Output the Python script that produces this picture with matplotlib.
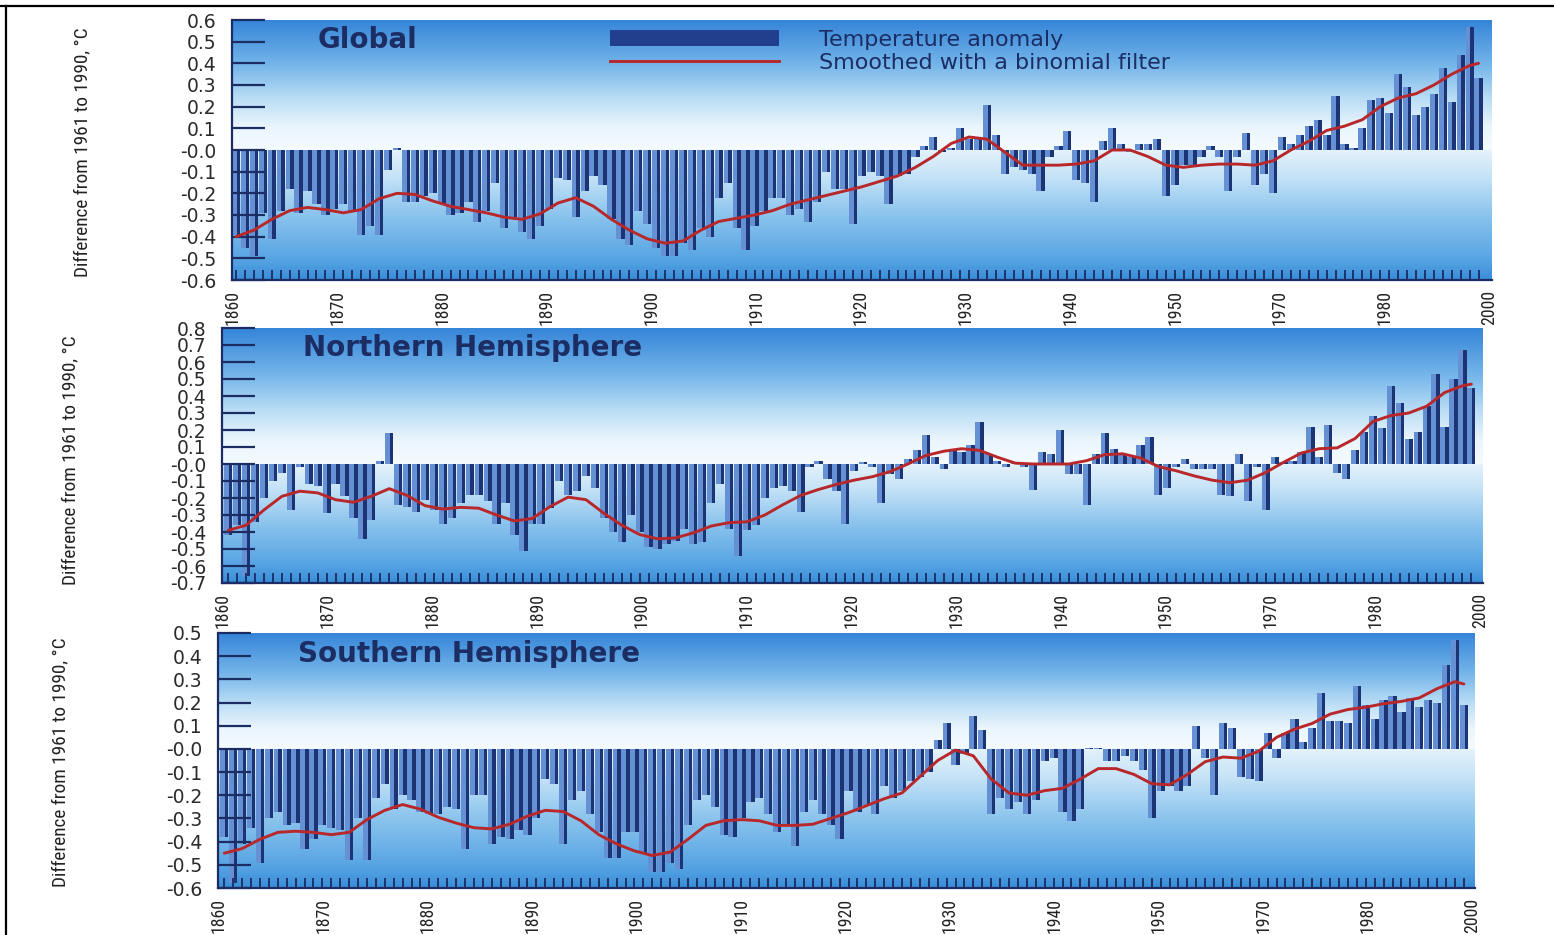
import os
import numpy as np
import matplotlib
matplotlib.use("Agg")
import matplotlib.pyplot as plt
from matplotlib import font_manager as fm
from matplotlib.font_manager import FontProperties
from matplotlib.patches import Patch
from matplotlib.lines import Line2D
from matplotlib.colors import to_rgb

plt.rcParams['axes.unicode_minus'] = False

# ---------------- data ----------------
years = np.arange(1860, 2000)

global_anom = [
    -0.39, -0.45, -0.49, -0.29, -0.41, -0.28, -0.18, -0.29, -0.19, -0.25,
    -0.30, -0.27, -0.25, -0.28, -0.39, -0.35, -0.39, -0.09, 0.01, -0.24,
    -0.24, -0.21, -0.20, -0.25, -0.30, -0.29, -0.24, -0.33, -0.28, -0.15,
    -0.36, -0.31, -0.38, -0.41, -0.35, -0.27, -0.13, -0.14, -0.31, -0.19,
    -0.12, -0.16, -0.32, -0.41, -0.44, -0.28, -0.34, -0.45, -0.49, -0.49,
    -0.43, -0.46, -0.36, -0.40, -0.22, -0.15, -0.36, -0.46, -0.35, -0.28,
    -0.22, -0.22, -0.30, -0.27, -0.33, -0.24, -0.10, -0.18, -0.18, -0.34,
    -0.12, -0.10, -0.12, -0.25, -0.12, -0.11, -0.03, 0.02, 0.06, -0.01,
    0.01, 0.10, 0.05, 0.05, 0.21, 0.07, -0.11, -0.08, -0.09, -0.11,
    -0.19, -0.03, 0.02, 0.09, -0.14, -0.15, -0.24, 0.04, 0.10, 0.03,
    -0.01, 0.03, 0.03, 0.05, -0.21, -0.16, -0.07, -0.08, -0.03, 0.02,
    -0.03, -0.19, -0.03, 0.08, -0.16, -0.11, -0.20, 0.06, 0.03, 0.07,
    0.11, 0.14, 0.07, 0.25, 0.03, 0.01, 0.10, 0.23, 0.24, 0.17,
    0.35, 0.29, 0.16, 0.20, 0.26, 0.38, 0.22, 0.44, 0.57, 0.33,
]

nh_anom = [
    -0.42, -0.36, -0.66, -0.34, -0.20, -0.10, -0.05, -0.27, -0.02, -0.12,
    -0.13, -0.29, -0.12, -0.19, -0.32, -0.44, -0.33, 0.02, 0.18, -0.24,
    -0.25, -0.28, -0.21, -0.27, -0.35, -0.32, -0.23, -0.18, -0.18, -0.22,
    -0.35, -0.23, -0.42, -0.51, -0.35, -0.35, -0.26, -0.10, -0.18, -0.16,
    -0.07, -0.14, -0.32, -0.40, -0.46, -0.30, -0.40, -0.49, -0.50, -0.47,
    -0.45, -0.38, -0.47, -0.46, -0.23, -0.12, -0.38, -0.54, -0.39, -0.36,
    -0.20, -0.14, -0.13, -0.16, -0.28, -0.02, 0.02, -0.09, -0.16, -0.35,
    -0.04, 0.01, -0.02, -0.23, -0.06, -0.09, 0.03, 0.08, 0.17, 0.04,
    -0.03, 0.09, 0.07, 0.11, 0.25, 0.06, 0.02, -0.02, 0.01, -0.02,
    -0.15, 0.07, 0.06, 0.20, -0.06, -0.06, -0.24, 0.06, 0.18, 0.09,
    0.06, 0.04, 0.11, 0.16, -0.18, -0.14, -0.02, 0.03, -0.03, -0.03,
    -0.03, -0.18, -0.19, 0.06, -0.22, -0.02, -0.27, 0.04, 0.01, 0.02,
    0.07, 0.22, 0.04, 0.23, -0.05, -0.09, 0.08, 0.19, 0.28, 0.21,
    0.46, 0.36, 0.15, 0.19, 0.34, 0.53, 0.22, 0.50, 0.67, 0.45,
]

sh_anom = [
    -0.38, -0.58, -0.41, -0.34, -0.49, -0.30, -0.27, -0.33, -0.32, -0.43,
    -0.39, -0.33, -0.34, -0.35, -0.48, -0.30, -0.48, -0.21, -0.15, -0.26,
    -0.20, -0.22, -0.27, -0.28, -0.28, -0.25, -0.26, -0.43, -0.20, -0.20,
    -0.41, -0.38, -0.39, -0.35, -0.37, -0.30, -0.13, -0.15, -0.41, -0.22,
    -0.18, -0.28, -0.36, -0.47, -0.47, -0.36, -0.36, -0.45, -0.53, -0.53,
    -0.49, -0.52, -0.33, -0.22, -0.20, -0.25, -0.37, -0.38, -0.30, -0.23,
    -0.21, -0.28, -0.36, -0.33, -0.42, -0.27, -0.22, -0.28, -0.33, -0.39,
    -0.18, -0.27, -0.24, -0.28, -0.16, -0.21, -0.18, -0.14, -0.12, -0.10,
    0.04, 0.11, -0.07, -0.02, 0.14, 0.08, -0.28, -0.21, -0.26, -0.23,
    -0.28, -0.22, -0.05, -0.04, -0.27, -0.31, -0.26, 0.005, 0.005, -0.05,
    -0.05, -0.03, -0.05, -0.09, -0.30, -0.18, -0.16, -0.18, -0.16, 0.10,
    -0.04, -0.20, 0.11, 0.09, -0.12, -0.13, -0.14, 0.07, -0.04, 0.07,
    0.13, 0.03, 0.09, 0.24, 0.12, 0.12, 0.11, 0.27, 0.19, 0.13,
    0.21, 0.23, 0.16, 0.22, 0.18, 0.21, 0.20, 0.36, 0.47, 0.19,
]

global_smooth_years = [1860, 1862, 1864, 1866, 1868, 1870, 1872, 1874, 1876, 1878,
                       1880, 1882, 1884, 1886, 1888, 1890, 1892, 1894, 1896, 1898,
                       1900, 1902, 1904, 1906, 1908, 1910, 1912, 1914, 1916, 1918,
                       1920, 1922, 1924, 1926, 1928, 1930, 1932, 1934, 1936, 1938,
                       1940, 1942, 1944, 1946, 1948, 1950, 1952, 1954, 1956, 1958,
                       1960, 1962, 1964, 1966, 1968, 1970, 1972, 1974, 1976, 1978,
                       1980, 1982, 1984, 1986, 1988, 1990, 1992, 1994, 1996, 1998, 1999]
global_smooth = [-0.40, -0.37, -0.32, -0.28, -0.265, -0.275, -0.29, -0.275, -0.225, -0.20,
                 -0.205, -0.235, -0.26, -0.275, -0.29, -0.31, -0.32, -0.295, -0.245, -0.22,
                 -0.26, -0.32, -0.37, -0.41, -0.43, -0.42, -0.37, -0.33, -0.315, -0.30,
                 -0.28, -0.25, -0.23, -0.21, -0.19, -0.17, -0.145, -0.12, -0.08, -0.03,
                 0.03, 0.06, 0.05, -0.01, -0.07, -0.07, -0.07, -0.065, -0.05, 0.00,
                 0.00, -0.03, -0.07, -0.08, -0.07, -0.065, -0.065, -0.07, -0.05, 0.00,
                 0.04, 0.09, 0.11, 0.14, 0.20, 0.24, 0.26, 0.30, 0.35, 0.39, 0.40]

nh_smooth_years = global_smooth_years
nh_smooth = [-0.39, -0.36, -0.27, -0.19, -0.16, -0.17, -0.21, -0.225, -0.19, -0.145,
             -0.185, -0.245, -0.265, -0.255, -0.26, -0.30, -0.335, -0.32, -0.25, -0.195,
             -0.21, -0.29, -0.36, -0.415, -0.44, -0.435, -0.405, -0.365, -0.345, -0.34,
             -0.30, -0.24, -0.185, -0.15, -0.12, -0.095, -0.075, -0.045, 0.00, 0.05,
             0.075, 0.09, 0.08, 0.04, 0.005, 0.00, 0.00, 0.00, 0.02, 0.055,
             0.06, 0.035, -0.015, -0.04, -0.07, -0.095, -0.11, -0.095, -0.05, 0.01,
             0.065, 0.09, 0.095, 0.15, 0.25, 0.285, 0.30, 0.34, 0.42, 0.46, 0.47]

sh_smooth_years = global_smooth_years
sh_smooth = [-0.45, -0.43, -0.39, -0.36, -0.355, -0.36, -0.37, -0.36, -0.305, -0.265,
             -0.24, -0.26, -0.295, -0.32, -0.34, -0.345, -0.325, -0.29, -0.265, -0.27,
             -0.31, -0.37, -0.41, -0.44, -0.46, -0.445, -0.39, -0.33, -0.31, -0.305,
             -0.31, -0.33, -0.33, -0.325, -0.30, -0.275, -0.245, -0.215, -0.19, -0.12,
             -0.05, -0.005, -0.03, -0.13, -0.19, -0.20, -0.18, -0.17, -0.13, -0.085,
             -0.085, -0.11, -0.15, -0.155, -0.11, -0.055, -0.035, -0.04, -0.01, 0.05,
             0.085, 0.11, 0.15, 0.17, 0.18, 0.195, 0.205, 0.22, 0.26, 0.29, 0.28]

x_tick_labels = ['1860', '1870', '1880', '1890', '1900', '1910', '1920',
                 '1930', '1940', '1950', '1970', '1980', '2000']
panel_titles = ['Global', 'Northern Hemisphere', 'Southern Hemisphere']
y_ranges = [(-0.6, 0.6), (-0.7, 0.8), (-0.6, 0.5)]
y_label = 'Difference from 1961 to 1990, °C'
legend_labels = ['Temperature anomaly', 'Smoothed with a binomial filter']

anoms = [global_anom, nh_anom, sh_anom]
smooth_x = [global_smooth_years, nh_smooth_years, sh_smooth_years]
smooth_y = [global_smooth, nh_smooth, sh_smooth]


# ---------------- fonts ----------------
def pick_condensed_file():
    files = {os.path.basename(f.fname).lower(): f.fname for f in fm.fontManager.ttflist}
    prefs = ['notosans-extracondensed.ttf', 'robotocondensed-regular.ttf',
             'roboto_condensed-regular.ttf', 'opensans-condensedregular.ttf',
             'opensans_condensed-regular.ttf', 'liberationsansnarrow-regular.ttf',
             'notosans-condensed.ttf', 'notosans-semicondensed.ttf',
             'dejavusanscondensed.ttf']
    for p in prefs:
        if p in files:
            return files[p]
    for b, fn in files.items():
        if ('condensed' in b or 'narrow' in b) and 'bold' not in b and 'italic' not in b \
                and 'light' not in b and 'thin' not in b and 'medium' not in b \
                and 'black' not in b and 'semi' not in b and 'oblique' not in b:
            return fn
    return None


cond_file = pick_condensed_file()


def cond_fp(size):
    if cond_file:
        return FontProperties(fname=cond_file, size=size)
    return FontProperties(family='DejaVu Sans', size=size)


# ---------------- style / layout ----------------
W, H = 1554, 935
fig = plt.figure(figsize=(W / 100, H / 100), dpi=100)

boxes = [(232, 20, 1492, 280), (222, 328, 1483, 583), (218, 633, 1475, 888)]
xlims = [(1859.55, 2000.5), (1859.3, 2000.3), (1859.3, 2000.25)]
ylabel_pos = [(82, 152), (70, 460), (60, 762)]
title_pos = [(0.068, 0.923), (0.064, 0.922), (0.064, 0.918)]

NAVY = '#1b2d63'
BAR_LIGHT = '#6590d3'
BAR_DARK = '#1d3474'
RED = '#b8282a'

above_stops = [(0.0, '#f5fbff'), (0.18, '#eaf5fd'), (0.4, '#b9ddf5'),
               (0.65, '#76b6ea'), (1.0, '#3585d8')]
below_stops = [(0.0, '#e4f2fb'), (0.2, '#c6e3f7'), (0.5, '#8bc4ed'),
               (0.85, '#56a3e3'), (1.0, '#3a8dd8')]


def interp_color(r, stops):
    pos = [s[0] for s in stops]
    cols = np.array([to_rgb(s[1]) for s in stops])
    return [np.interp(r, pos, cols[:, k]) for k in range(3)]


def background(ax, xl, yl):
    n = 500
    ys = np.linspace(yl[0], yl[1], n)
    img = np.zeros((n, 1, 3))
    for i, y in enumerate(ys):
        if y >= 0:
            img[i, 0, :] = interp_color(y / yl[1], above_stops)
        else:
            img[i, 0, :] = interp_color(y / yl[0], below_stops)
    ax.imshow(img, extent=(xl[0], xl[1], yl[0], yl[1]), origin='lower',
              aspect='auto', zorder=0, interpolation='bilinear')


ylabel_texts = []
xtick_texts = []

for k in range(3):
    l, t, r, b = boxes[k]
    ax = fig.add_axes([l / W, 1 - b / H, (r - l) / W, (b - t) / H])
    xl, yl = xlims[k], y_ranges[k]
    background(ax, xl, yl)

    vals = np.array(anoms[k])
    ax.bar(years, vals, width=0.92, color=BAR_LIGHT, linewidth=0, zorder=1.5)
    ax.bar(years + 0.46, vals, width=-0.38, align='edge', color=BAR_DARK,
           linewidth=0, zorder=1.6)
    ax.plot(smooth_x[k], smooth_y[k], color=RED, lw=2.1, zorder=4,
            solid_capstyle='round', solid_joinstyle='round')

    ax.set_xlim(*xl)
    ax.set_ylim(*yl)
    ax.set_axisbelow(False)

    yt = np.round(np.arange(yl[0], yl[1] + 0.001, 0.1), 1)
    ax.set_yticks(yt)
    ax.set_yticklabels([f'{v:.1f}' for v in yt], fontsize=13.5, color='#2a2a2a',
                       family='DejaVu Sans')
    ax.tick_params(axis='y', direction='in', length=24, width=1.6, color=NAVY, pad=11)

    xt = np.linspace(xl[0] + 0.1, xl[1] - 0.3, len(x_tick_labels))
    ax.set_xticks(xt)
    ax.set_xticklabels(x_tick_labels, rotation=90, color='#222222')
    for lab in ax.get_xticklabels():
        lab.set_fontproperties(cond_fp(13))
        xtick_texts.append(lab)
    ax.set_xticks(years, minor=True)
    ax.tick_params(axis='x', which='major', length=0, pad=7)
    ax.tick_params(axis='x', which='minor', direction='in', length=7, width=1.3,
                   color=NAVY)

    for s in ['top', 'right']:
        ax.spines[s].set_visible(False)
    for s in ['left', 'bottom']:
        ax.spines[s].set_color(NAVY)
        ax.spines[s].set_linewidth(1.6)

    ax.text(title_pos[k][0], title_pos[k][1], panel_titles[k], transform=ax.transAxes,
            fontsize=20, fontweight='bold', color=NAVY, ha='left', va='center', zorder=5)

    yl_txt = fig.text(ylabel_pos[k][0] / W, 1 - ylabel_pos[k][1] / H, y_label,
                      rotation=90, ha='center', va='center', color='#222222',
                      fontproperties=cond_fp(15))
    ylabel_texts.append(yl_txt)

    if k == 0:
        handles = [Patch(facecolor='#223f8e', edgecolor='none'),
                   Line2D([], [], color=RED, lw=2.1)]
        leg = ax.legend(handles, legend_labels, loc='upper left',
                        bbox_to_anchor=(0.30, 0.962), frameon=False, fontsize=16,
                        handlelength=7.6, handleheight=0.75, handletextpad=1.8,
                        labelspacing=0.13, borderaxespad=0, borderpad=0)
        for txt in leg.get_texts():
            txt.set_color(NAVY)
        leg.set_zorder(6)

# fit the condensed texts to the lengths they have in the reference
fig.canvas.draw()
renderer = fig.canvas.get_renderer()
for txt in ylabel_texts:
    h = txt.get_window_extent(renderer).height
    fs = txt.get_fontsize()
    txt.set_fontsize(fs * 250.0 / h)
for lab in xtick_texts:
    h = lab.get_window_extent(renderer).height
    if h > 0:
        lab.set_fontsize(lab.get_fontsize() * 35.0 / h)

# figure border (top and left)
fig.add_artist(Line2D([0, 1], [1 - 6 / H, 1 - 6 / H], transform=fig.transFigure,
                      color='black', lw=1.6))
fig.add_artist(Line2D([6 / W, 6 / W], [0, 1 - 6 / H], transform=fig.transFigure,
                      color='black', lw=1.6))

fig.savefig('out.png', dpi=100)
